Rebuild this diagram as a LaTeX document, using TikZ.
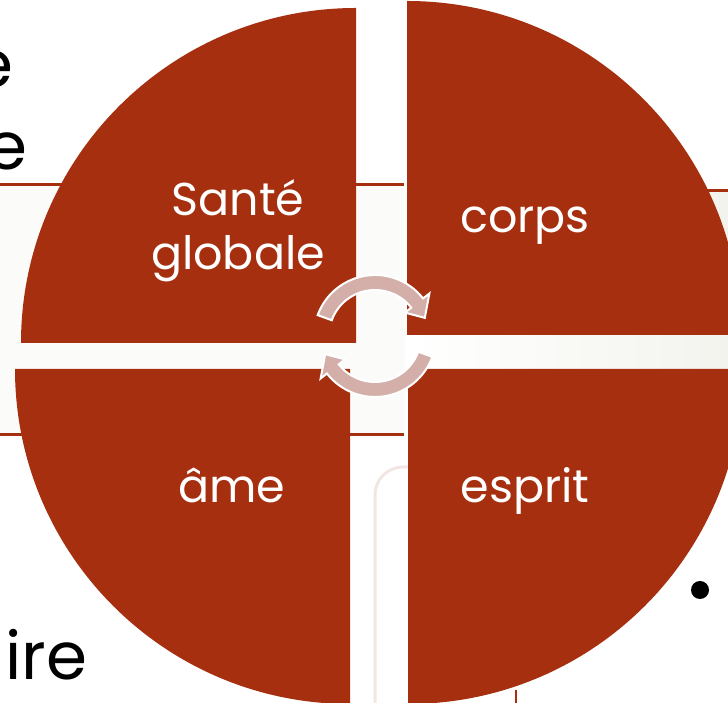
\documentclass[tikz,border=0pt]{standalone}
\usepackage{fontspec}
\setmainfont{Poppins}
\definecolor{rust}{RGB}{165,47,15}
\definecolor{arrowc}{RGB}{212,175,170}
\definecolor{boxgray}{RGB}{251,251,249}
\definecolor{boxgray2}{RGB}{243,243,238}
\definecolor{faintpink}{RGB}{242,230,227}
\tikzset{
  sector/.style={fill=rust},
  lbl/.style={text=white, inner sep=0pt, anchor=base, font=\fontsize{46}{54}\selectfont},
  bigtxt/.style={text=black, inner sep=0pt, font=\fontsize{66}{80}\selectfont},
  rule/.style={draw=rust, line width=3pt},
  cyclearrow/.style={fill=arrowc, draw=white, line width=2pt, line join=miter}
}
\begin{document}
\begin{tikzpicture}[x=1pt,y=1pt]
\useasboundingbox (0,0) rectangle (728,703);
\clip (0,0) rectangle (728,703);
% background slide elements
\fill[boxgray] (0,268) rectangle (405,518);
\shade[left color=white, right color=boxgray2] (409,264) rectangle (728,512);
\draw[rule] (0,518) -- (404,518);
\draw[rule] (0,268) -- (404,268);
\draw[rule] (409,512) -- (728,512);
\draw[faintpink, line width=3pt, rounded corners=28pt] (375,-5) -- (375,236) -- (430,236);
\draw[rust, line width=2pt] (516,0) -- (516,13);
\node[bigtxt, anchor=base east] (e1) at (14,615) {e};
\node[bigtxt, anchor=base east] (e2) at (28,533) {e};
\node[bigtxt, anchor=base west] (ire) at (5,23) {ire};
\fill (700,113) circle (9);
% sectors
\fill[sector] (356,360) -- (356,695) arc[start angle=90, end angle=180, radius=335] -- cycle;
\fill[sector] (407,368) -- (741,368) arc[start angle=0, end angle=90, radius=334] -- cycle;
\fill[sector] (350,334) -- (15,334) arc[start angle=180, end angle=270, radius=335] -- cycle;
\fill[sector] (408,334) -- (408,-1) arc[start angle=270, end angle=360, radius=335] -- cycle;
% labels
\node[lbl] (sante) at (238,487) {Santé};
\node[lbl] (globale) at (238,433) {globale};
\node[lbl] (corps) at (525,470) {corps};
\node[lbl] (ame) at (232,200) {âme};
\node[lbl] (esprit) at (525,200) {esprit};
% cycle arrows
\begin{scope}[shift={(375,367)}]
\path[cyclearrow] (160:61) arc[start angle=160, end angle=38, radius=61]
  -- (38:69) -- (20:53) -- (38:38) -- (38:46)
  arc[start angle=38, end angle=160, radius=46] -- cycle;
\path[cyclearrow] (-20:61) arc[start angle=-20, end angle=-142, radius=61]
  -- (-142:69) -- (-160:53) -- (-142:38) -- (-142:46)
  arc[start angle=-142, end angle=-20, radius=46] -- cycle;
\end{scope}
\end{tikzpicture}
\end{document}
